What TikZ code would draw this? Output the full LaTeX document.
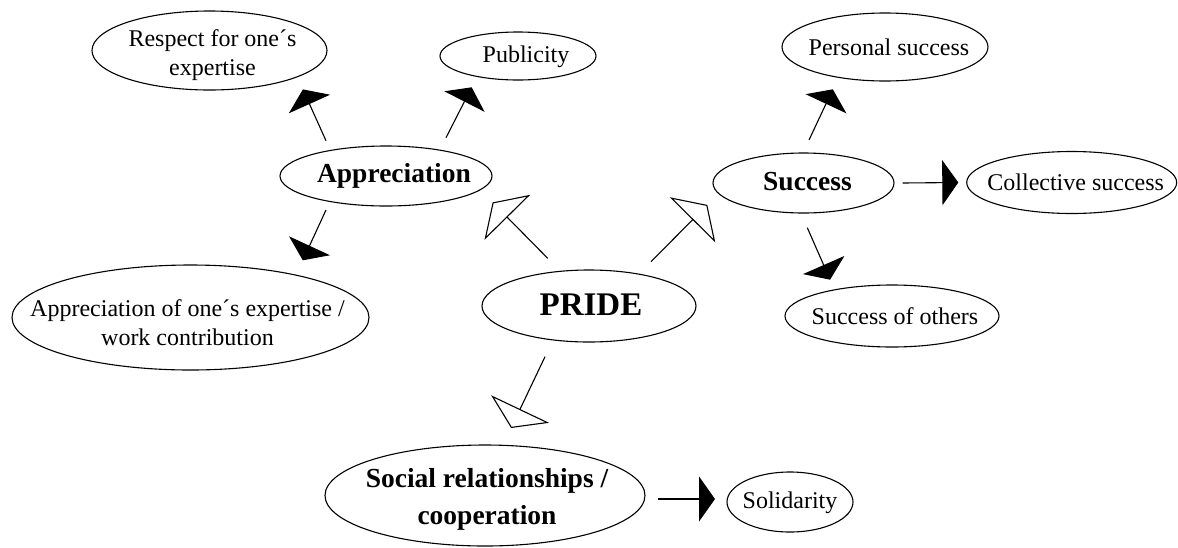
\documentclass[tikz,border=0pt]{standalone}
\usepackage{fontspec}
\setmainfont{Liberation Serif}
\usetikzlibrary{shapes.geometric,arrows.meta,calc}
\begin{document}
\begin{tikzpicture}[x=1pt,y=-1pt,
  oval/.style={ellipse, draw, line width=1.1pt, inner sep=0pt},
  txt/.style={inner sep=0pt, align=center, font=\fontsize{24}{29}\selectfont},
  btxt/.style={inner sep=0pt, align=center, font=\fontsize{27.5}{37}\selectfont\bfseries},
  blk/.style={line width=1.1pt, -{Triangle[width=45pt,length=16pt]}},
  hol/.style={line width=1.1pt, -{Triangle[open,width=64pt,length=21pt]}},
]
\useasboundingbox[fill=white] (0,0) rectangle (1178,547);
% ellipses
\node[oval, minimum width=235pt, minimum height=79pt] (resp) at (209.5,50.5) {};
\node[oval, minimum width=156pt, minimum height=48pt] (pub) at (518,56) {};
\node[oval, minimum width=206pt, minimum height=68pt] (pers) at (885,47) {};
\node[oval, minimum width=212pt, minimum height=60pt] (appr) at (386,176) {};
\node[oval, minimum width=181pt, minimum height=60pt] (succ) at (803.5,183) {};
\node[oval, minimum width=210pt, minimum height=62pt] (coll) at (1071.7,182.5) {};
\node[oval, minimum width=214pt, minimum height=72pt] (pride) at (589,306) {};
\node[oval, minimum width=357pt, minimum height=105pt] (apex) at (190.5,317.5) {};
\node[oval, minimum width=214pt, minimum height=62pt] (others) at (892,316) {};
\node[oval, minimum width=320pt, minimum height=101pt] (social) at (485,495.5) {};
\node[oval, minimum width=126pt, minimum height=60pt] (solid) at (790,502) {};
% texts
\node[txt] (resp-t) at ($(resp)+(3,5)$) {Respect for one´s\\expertise};
\node[txt] (pub-t) at ($(pub)+(8,1)$) {Publicity};
\node[txt] (pers-t) at ($(pers)+(4,0)$) {Personal success};
\node[btxt] (appr-t) at ($(appr)+(8,0)$) {Appreciation};
\node[btxt] (succ-t) at ($(succ)+(4,-1)$) {Success};
\node[txt] (coll-t) at ($(coll)+(4,0)$) {Collective success};
\node[inner sep=0pt, font=\fontsize{33}{36}\selectfont\bfseries] (pride-t) at ($(pride)+(2,-1)$) {PRIDE};
\node[txt] (apex-t) at ($(apex)+(-3,5)$) {Appreciation of one´s expertise /\\work contribution};
\node[txt] (others-t) at ($(others)+(3,0)$) {Success of others};
\node[btxt] (social-t) at ($(social)+(2,4)$) {Social relationships /\\cooperation};
\node[txt] (solid-t) at ($(solid)+(0,1)$) {Solidarity};
% connectors
\draw[blk] ($(appr)+(-60,-35.3)$) -- ($(resp)+(93.4,38.9)$);
\draw[blk] ($(appr)+(60,-38.3)$) -- ($(pub)+(-46.3,31.3)$);
\draw[blk] ($(appr)+(-60,34)$) -- ($(apex)+(112.3,-57.2)$);
\draw[hol] ($(pride)+(-41.3,-47.7)$) -- ($(appr)+(106.6,26.4)$);
\draw[hol] ($(pride)+(62,-44.3)$) -- ($(succ)+(-96.2,21.9)$);
\draw[hol] ($(pride)+(-44,50.7)$) -- ($(social)+(26.1,-67.5)$);
\draw[blk] ($(succ)+(5.5,-43)$) -- ($(pers)+(-52.2,42.3)$);
\draw[blk] ($(succ)+(99,0)$) -- ($(coll)+(-113.4,0)$);
\draw[blk] ($(succ)+(3.8,44.7)$) -- ($(others)+(-61.9,-36.3)$);
\draw[blk] ($(social)+(173,3.5)$) -- ($(solid)+(-75,-3)$);
\end{tikzpicture}
\end{document}
